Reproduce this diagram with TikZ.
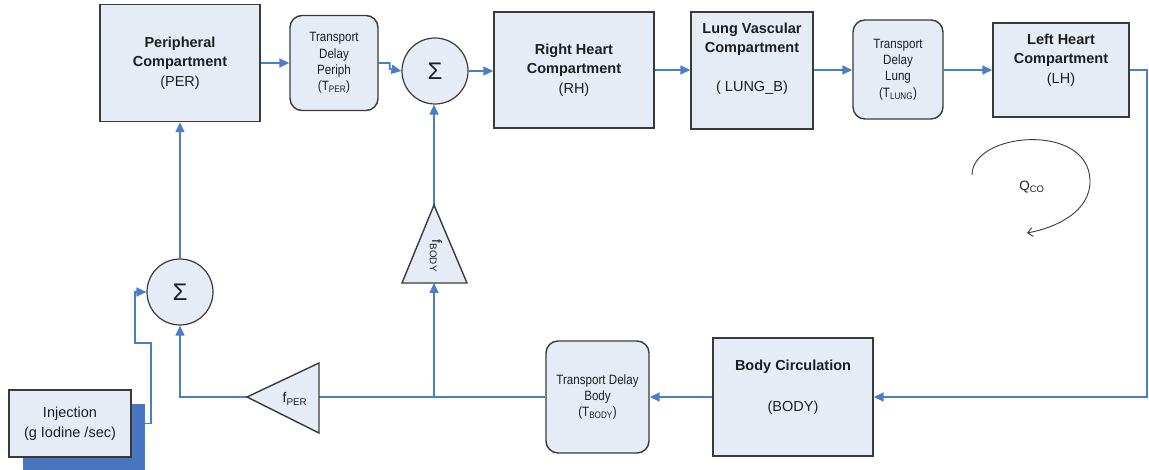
\documentclass[tikz,border=0pt]{standalone}
\usepackage{fontspec}
\setmainfont{Liberation Sans}
\newfontfamily\narrowsans[FakeStretch=0.86]{Liberation Sans}
\usetikzlibrary{arrows.meta}
\definecolor{boxfill}{HTML}{E6ECF6}
\definecolor{edgegray}{HTML}{3A3A3A}
\definecolor{flow}{HTML}{4A7EC9}
\definecolor{shadowblue}{HTML}{4877BF}
\definecolor{ink}{HTML}{1E1E1E}
\pgfdeclarelayer{wires}
\pgfsetlayers{wires,main}

\begin{document}
\begin{tikzpicture}[x=1pt,y=-1pt,
  block/.style={draw=edgegray,line width=1.4pt,fill=boxfill,inner sep=0pt},
  delaybox/.style={block,rounded corners=12pt},
  sumnode/.style={draw=edgegray,line width=1.2pt,fill=boxfill,circle,minimum size=66pt,
    inner sep=0pt,text=ink,font=\fontsize{24}{24}\selectfont},
  bigtext/.style={font=\fontsize{14.5}{19.5}\selectfont,align=center,text=ink},
  delaytext/.style={font=\narrowsans\fontsize{13.5}{16.3}\selectfont,align=center,text=ink},
  conn/.style={draw=flow,line width=1.6pt,-{Triangle[length=10pt,width=9pt]}},
  wire/.style={draw=flow,line width=1.6pt},
]
\useasboundingbox (0,0) rectangle (1149,470);

% ---- upper chain of compartments ----
\node[block,bigtext,minimum width=160pt,minimum height=117pt] (per) at (180,63)
  {\textbf{Peripheral}\\\textbf{Compartment}\\(PER)};
\node[delaybox,delaytext,minimum width=88pt,minimum height=95pt] (tdp) at (334,63)
  {Transport\\Delay\\Periph\\(T\textsubscript{PER})};
\node[sumnode] (sum1) at (435,71) {Σ};
\node[block,bigtext,minimum width=160pt,minimum height=116pt] (rh) at (574,70)
  {\textbf{Right Heart}\\\textbf{Compartment}\\(RH)};
\node[block,minimum width=122pt,minimum height=117pt] (lung) at (752,70.5) {};
\node[bigtext] (lungtext) at (752,59)
  {\textbf{Lung Vascular}\\\textbf{Compartment}\\\mbox{}\\( LUNG\_B)};
\node[delaybox,delaytext,minimum width=90pt,minimum height=99pt] (tdl) at (898,69.5)
  {Transport\\Delay\\Lung\\(T\textsubscript{LUNG})};
\node[block,minimum width=136pt,minimum height=94pt] (lh) at (1061,70) {};
\node[bigtext] (lhtext) at (1061,60)
  {\textbf{Left Heart}\\\textbf{Compartment}\\(LH)};

% ---- lower chain ----
\node[block,minimum width=160pt,minimum height=118pt] (body) at (793,397) {};
\node[bigtext,font=\fontsize{14.5}{41}\selectfont] (bodytext) at (793,387.5)
  {\textbf{Body Circulation}\\(BODY)};
\node[delaybox,delaytext,minimum width=103pt,minimum height=112pt] (tdb) at (597.5,397)
  {Transport Delay\\Body\\(T\textsubscript{BODY})};
\node[sumnode] (sum2) at (180,292) {Σ};

% injection source with its drop shadow
\fill[shadowblue] (23,404) rectangle (145,470);
\node[block,bigtext,font=\fontsize{14.5}{20}\selectfont,minimum width=122pt,minimum height=67pt] (inj) at (70,423.5)
  {Injection\\(g Iodine /sec)};

% ---- gain triangles ----
\coordinate (fbodyin) at (434,283);
\coordinate (fbodyout) at (434,205);
\draw[block] (402,283) -- (fbodyout) -- (467,283) -- cycle;
\node[rotate=-90,text=ink,font=\fontsize{14}{14}\selectfont] (fbody) at (436,256) {f\textsubscript{BODY}};

\coordinate (fperin) at (319,397);
\coordinate (fperout) at (247,397);
\draw[block] (319,363) -- (fperout) -- (319,433) -- cycle;
\node[text=ink,font=\fontsize{14}{14}\selectfont] (fper) at (295,399) {f\textsubscript{PER}};

% ---- cardiac output loop ----
\draw[draw=edgegray,line width=0.9pt,-{Straight Barb[length=5pt,width=9pt]}]
  (972,175) .. controls (972,132) and (1088,122) .. (1090,180)
  .. controls (1091,212) and (1055,228) .. (1027,233);
\node[text=ink,font=\fontsize{13.5}{13.5}\selectfont] (qco) at (1032,187) {Q\textsubscript{CO}};

% ---- connectors, kept behind the blocks ----
\begin{pgfonlayer}{wires}
\fill[white] (0,0) rectangle (1149,470);
% forward flow
\draw[conn] (per.east) -- (tdp.west);
\draw[conn] (tdp.east) -- ++(11,0) -- ++(0,6) -- (sum1.west);
\draw[conn] (sum1.east) -- (rh.west |- sum1.east);
\draw[conn] (rh.east) -- (lung.west |- rh.east);
\draw[conn] (lung.east |- 0,70) -- (tdl.west |- 0,70);
\draw[conn] (tdl.east |- 0,70) -- (lh.west |- 0,70);
\draw[conn] (lh.east) -- ++(17,0) |- (body.east);
\draw[conn] (body.west) -- (tdb.east);
% return paths
\draw[wire] (tdb.west) -- (fperin);
\draw[conn] (fperout) -| (sum2.south);
\coordinate (branch) at (434,397);
\draw[conn] (branch) -- (fbodyin);
\draw[conn] (fbodyout) -- (sum1.south -| fbodyout);
\draw[conn] (sum2.north) -- (per.south);
\draw[conn] (inj.east) -- (151,423.5) -- (151,343) -- (135,343) |- (sum2.west);
\end{pgfonlayer}
\end{tikzpicture}
\end{document}
